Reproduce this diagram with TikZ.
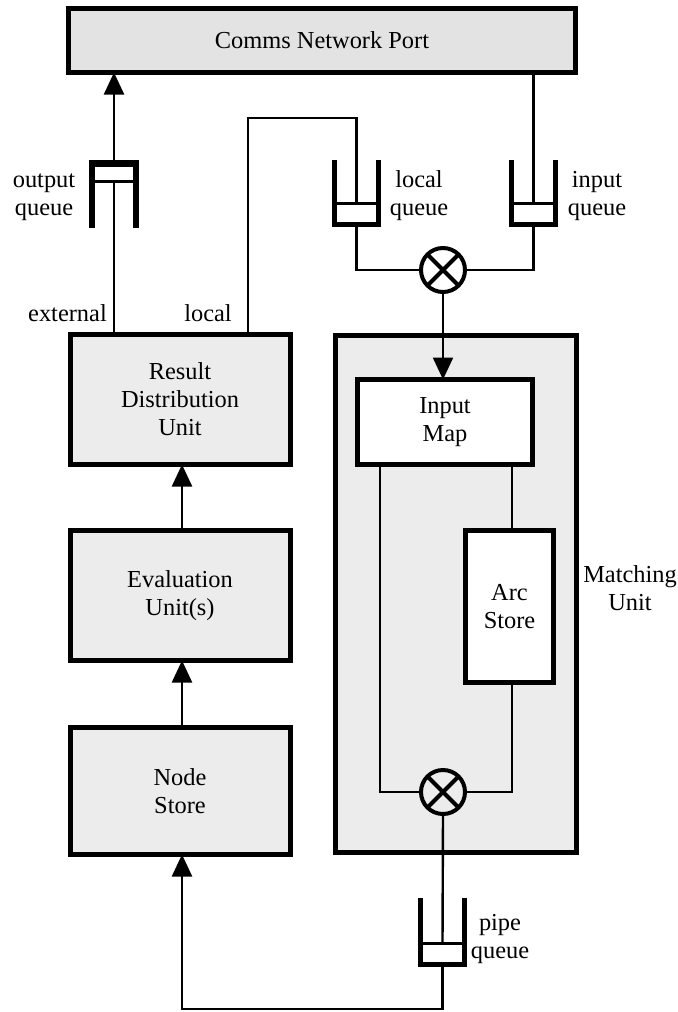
\documentclass[tikz,border=0pt]{standalone}
\usepackage{fontspec}
\setmainfont{Liberation Serif}
\usetikzlibrary{arrows.meta}
\begin{document}
\begin{tikzpicture}[x=0.5pt,y=-0.5pt,
  box/.style={draw,line width=2.5pt,fill=gray!15,align=center,inner sep=0pt,outer sep=0pt},
  wbox/.style={draw,line width=2.5pt,fill=white,align=center,inner sep=0pt,outer sep=0pt},
  conn/.style={line width=1.2pt},
  arr/.style={conn,-{Triangle[width=10pt,length=11pt]}},
  qwall/.style={line width=2.6pt},
  qelem/.style={draw,line width=1.5pt,fill=white,minimum width=22pt,minimum height=10pt,inner sep=0pt,outer sep=0pt},
  comb/.style={circle,draw,line width=2pt,minimum size=22pt,inner sep=0pt,outer sep=0pt},
  lbl/.style={align=center,inner sep=0pt},
  font=\fontsize{12.2}{14}\selectfont]
\useasboundingbox (0,0) rectangle (678,1012);

% main boxes
\node[box,fill=gray!22,minimum width=253.5pt,minimum height=32pt] (port) at (322,40.5) {Comms Network Port};
\node[box,minimum width=110pt,minimum height=65pt] (rdu) at (180,399.5) {Result\\Distribution\\Unit};
\node[box,minimum width=110pt,minimum height=65pt] (ev) at (180,595.5) {Evaluation\\Unit(s)};
\node[box,minimum width=110pt,minimum height=63.5pt] (ns) at (180,791) {Node\\Store};
\node[box,minimum width=120.5pt,minimum height=258.5pt] (mu) at (456,594) {};
\node[wbox,minimum width=87.5pt,minimum height=42.5pt] (im) at (445,422) {Input\\Map};
\node[wbox,minimum width=44pt,minimum height=76pt] (arc) at (509.5,606.5) {Arc\\Store};

% queue elements
\node[qelem,minimum height=8pt] (oq) at (114,173.5) {};
\node[qelem] (lq) at (356.5,213.5) {};
\node[qelem] (iq) at (533.5,213.5) {};
\node[qelem] (pq) at (442.5,953.5) {};

% queue walls
\draw[qwall] (92,228) -- (92,162.5) -- (136,162.5) -- (136,228);
\draw[qwall] (334.5,160) -- (334.5,224.5) -- (378.5,224.5) -- (378.5,160);
\draw[qwall] (511.5,160) -- (511.5,224.5) -- (555.5,224.5) -- (555.5,160);
\draw[qwall] (420.5,898) -- (420.5,964.5) -- (464.5,964.5) -- (464.5,898);

% combiners
\node[comb] (c1) at (443,270) {};
\node[comb] (c2) at (443,792) {};
\draw[line width=2pt] (c1.north west) -- (c1.south east) (c1.north east) -- (c1.south west);
\draw[line width=2pt] (c2.north west) -- (c2.south east) (c2.north east) -- (c2.south west);

% helper coordinates
\coordinate (lx) at (248,118);
\coordinate (ml) at (380,792);
\coordinate (mr) at (512,792);
\coordinate (bl) at (182,1009);

% connectors
\draw[conn] (rdu.north -| oq) -- (oq.south);
\draw[arr] (oq.north) -- (oq.north |- port.south);
\draw[conn] (rdu.north -| lx) -- (lx) -| (lq.north);
\draw[conn] (port.south -| iq) -- (iq.north);
\draw[conn] (lq.south) |- (c1.west);
\draw[conn] (iq.south) |- (c1.east);
\draw[arr] (c1.south) -- (c1.south |- im.north);
\draw[conn] (im.south -| ml) |- (c2.west);
\draw[conn] (im.south -| mr) -- (arc.north -| mr);
\draw[conn] (arc.south -| mr) |- (c2.east);
\draw[conn] (c2.south) -- (pq.north);
\draw[arr] (pq.south) |- (bl) -- (bl |- ns.south);
\draw[arr] (ns.north -| bl) -- (ev.south -| bl);
\draw[arr] (ev.north -| bl) -- (rdu.south -| bl);

% labels
\node[lbl] (lbloq) at (44,197) {output\\queue};
\node[lbl] (lbllq) at (419,196) {local\\queue};
\node[lbl] (lbliq) at (597,196) {input\\queue};
\node[lbl] (lblext) at (67.5,313) {external};
\node[lbl] (lblloc) at (208,313) {local};
\node[lbl] (lblmu) at (630,588) {Matching\\Unit};
\node[lbl] (lblpq) at (500,939) {pipe\\queue};
\end{tikzpicture}
\end{document}
